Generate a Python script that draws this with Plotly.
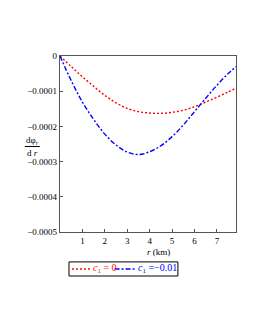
import plotly.graph_objects as go

r = [0, 0.5, 1, 1.5, 2, 2.5, 3, 3.5, 4, 4.5, 5, 5.5, 6, 6.5, 7, 7.5, 7.85]
red_vals = [0, -0.000030, -0.000059, -0.000086, -0.000112, -0.000133, -0.000149, -0.000158,
            -0.000162, -0.000163, -0.000160, -0.000154, -0.000144, -0.000131, -0.000117,
            -0.000102, -0.000091]
blue_vals = [0, -0.000070, -0.000131, -0.000180, -0.000222, -0.000253, -0.000273, -0.000280,
             -0.000272, -0.000255, -0.000229, -0.000196, -0.000158, -0.000120, -0.000083,
             -0.000050, -0.000030]
ytick_vals = [0, -0.0001, -0.0002, -0.0003, -0.0004, -0.0005]
ytick_text = ["0", "\u22120.0001", "\u22120.0002", "\u22120.0003", "\u22120.0004", "\u22120.0005"]
xtick_vals = [1, 2, 3, 4, 5, 6, 7]
legend_names = ["<i>c</i><sub>1</sub> = 0", "<i>c</i><sub>1</sub> =\u22120.01"]

font = "Liberation Serif"
RED = "#ff0000"
BLUE = "#0000ff"
RED_DASH = "2px,2px"
BLUE_DASH = "5px,2px,2px,2px"

fig = go.Figure()
fig.add_trace(go.Scatter(
    x=r, y=red_vals, mode="lines", line=dict(color=RED, dash=RED_DASH, width=1.4, shape="spline"),
    name=legend_names[0], showlegend=False))
fig.add_trace(go.Scatter(
    x=r, y=blue_vals, mode="lines", line=dict(color=BLUE, dash=BLUE_DASH, width=1.4, shape="spline"),
    name=legend_names[1], showlegend=False))

fig.update_layout(
    width=255, height=330,
    margin=dict(l=52, r=27, t=48, b=106, autoexpand=False),
    paper_bgcolor="white", plot_bgcolor="white",
    font=dict(family=font, size=9, color="black"),
    showlegend=False,
    xaxis=dict(range=[0, 7.85], tickvals=xtick_vals, ticks="inside", ticklen=3,
               showgrid=False, zeroline=False, showline=True, linecolor="#555555",
               linewidth=1.2, mirror=True, tickcolor="#555555",
               tickfont=dict(family=font, size=9)),
    yaxis=dict(range=[-0.0005, 0], tickvals=ytick_vals, ticktext=ytick_text,
               ticks="inside", ticklen=3, showgrid=False, zeroline=False,
               showline=True, linecolor="#555555", linewidth=1.2, mirror=True,
               tickcolor="#555555", tickfont=dict(family=font, size=9)),
)

# axis titles
fig.add_annotation(xref="paper", yref="paper", x=0.557, y=-0.075, yanchor="top",
                   text="<i>r</i> (km)", showarrow=False, font=dict(size=9, family=font))
fig.add_annotation(xref="paper", yref="paper", x=-0.156, y=0.5227, xanchor="center", yanchor="middle",
                   text="d\u03c6<sub><i>r</i></sub>", showarrow=False, borderpad=0,
                   font=dict(size=9, family=font))
fig.add_annotation(xref="paper", yref="paper", x=-0.156, y=0.4517, xanchor="center", yanchor="middle",
                   text="d <i>r</i>", showarrow=False, borderpad=0,
                   font=dict(size=9, family=font))
fig.add_shape(type="line", xref="paper", yref="paper", x0=-0.20, x1=-0.115, y0=0.4858, y1=0.4858,
              line=dict(color="black", width=1))

# legend box
fig.add_shape(type="rect", xref="paper", yref="paper", x0=0.051, x1=0.670, y0=-0.25, y1=-0.170,
              line=dict(color="black", width=1), fillcolor="white")
fig.add_shape(type="line", xref="paper", yref="paper", x0=0.068, x1=0.170, y0=-0.21, y1=-0.21,
              line=dict(color=RED, dash=RED_DASH, width=1.4))
fig.add_annotation(xref="paper", yref="paper", x=0.178, y=-0.21, xanchor="left", yanchor="middle",
                   text=legend_names[0], showarrow=False, font=dict(size=10, family=font, color=RED))
fig.add_shape(type="line", xref="paper", yref="paper", x0=0.31, x1=0.426, y0=-0.21, y1=-0.21,
              line=dict(color=BLUE, dash=BLUE_DASH, width=1.4))
fig.add_annotation(xref="paper", yref="paper", x=0.432, y=-0.21, xanchor="left", yanchor="middle",
                   text=legend_names[1], showarrow=False, font=dict(size=10, family=font, color=BLUE))

fig.write_html("out.html")
